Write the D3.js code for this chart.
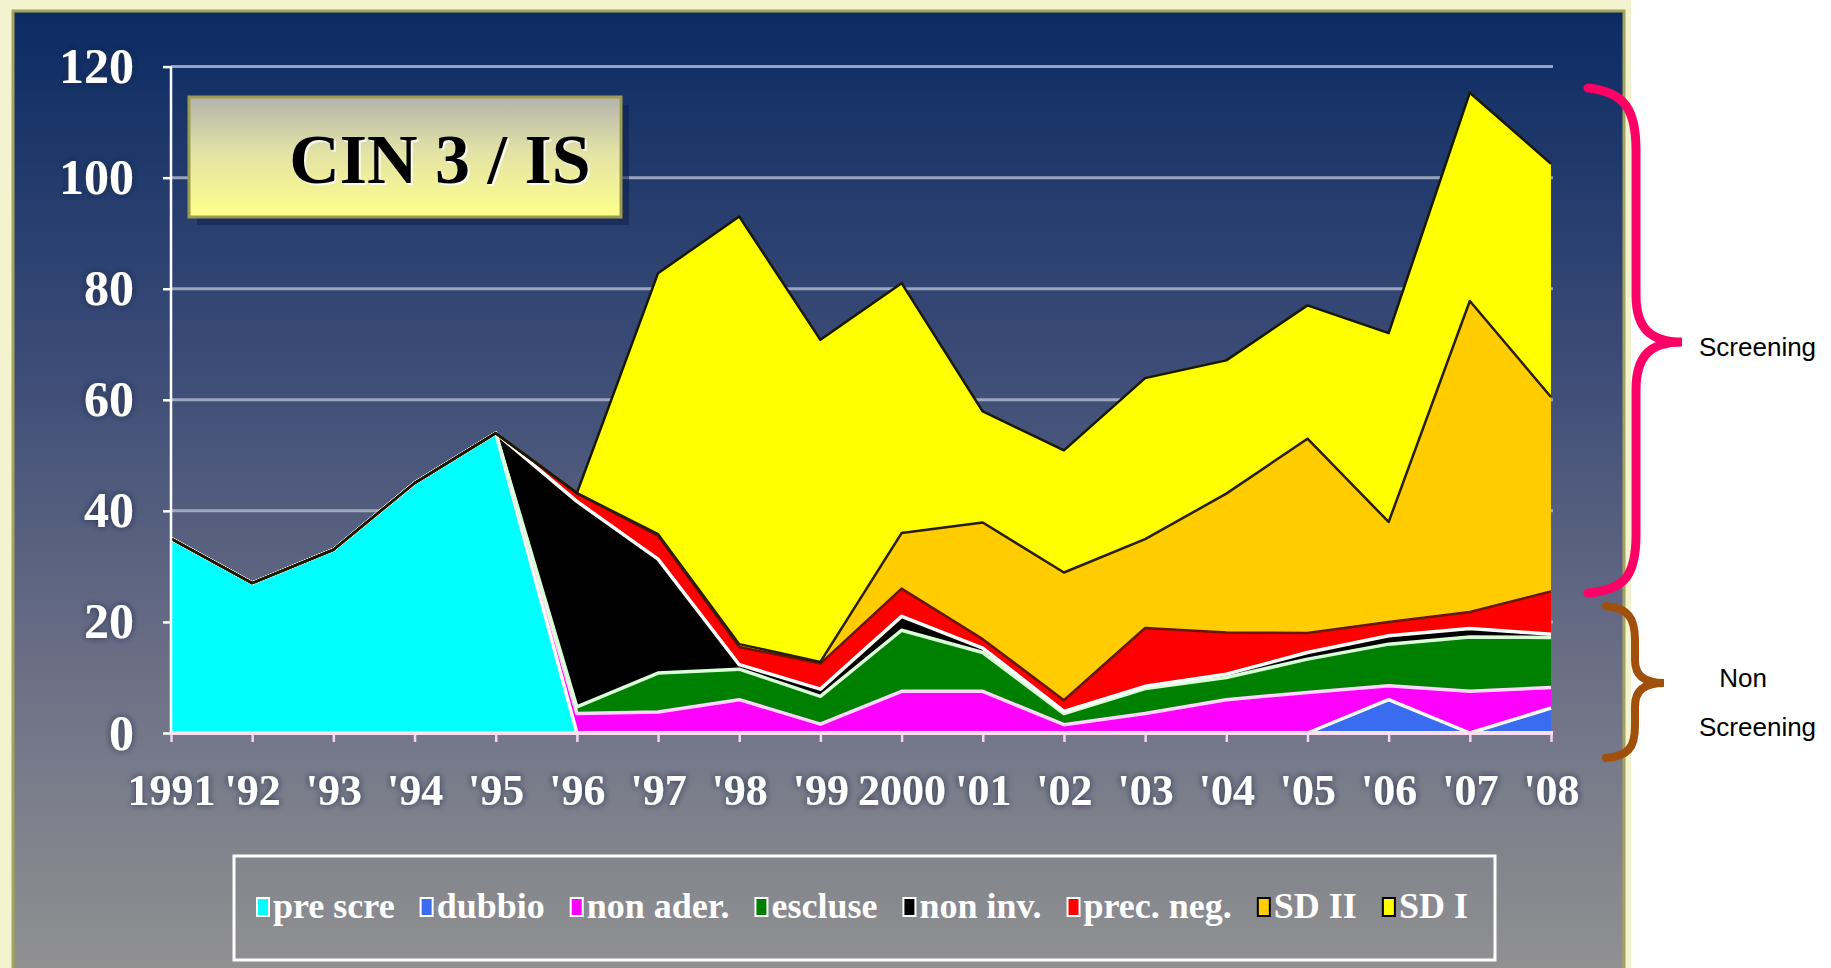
<!DOCTYPE html>
<html>
<head>
<meta charset="utf-8">
<script src="https://d3js.org/d3.v7.min.js"></script>
<style>
  body { margin: 0; background: #ffffff; }
  svg { display: block; }
</style>
</head>
<body>
<div id="chart"></div>
<script>

// years on the x axis
var years = ["1991", "'92", "'93", "'94", "'95", "'96", "'97", "'98", "'99", "2000",
             "'01", "'02", "'03", "'04", "'05", "'06", "'07", "'08"];

// series, bottom to top
var preScre = [35, 27, 33, 45, 54, 0, 0, 0, 0, 0, 0, 0, 0, 0, 0, 0, 0, 0];
var dubbio  = [0, 0, 0, 0, 0, 0, 0, 0, 0, 0, 0, 0, 0, 0, 0, 6, 0, 4.5];
var nonAder = [0, 0, 0, 0, 0, 3.5, 3.8, 6, 1.6, 7.5, 7.5, 1.5, 3.5, 6, 7.3, 2.5, 7.5, 3.7];
var escluse = [0, 0, 0, 0, 0, 1.2, 7, 5.5, 5, 11, 7, 2, 4.5, 4, 6, 7.5, 9.8, 9];
var nonInv  = [0, 0, 0, 0, 0, 37, 20.5, 0.8, 1.3, 2.5, 0.8, 0.4, 0.4, 0.6, 1.2, 1.5, 1.5, 0.6];
var precNeg = [0, 0, 0, 0, 0, 1.5, 4.2, 3.2, 4.6, 5, 1.6, 2, 10.5, 7.5, 3.5, 2.5, 3, 7.7];
var sdII    = [0, 0, 0, 0, 0, 0, 0.3, 0.5, 0.3, 10, 21, 23, 16, 25, 35, 18, 56, 35];
var sdI     = [0, 0, 0, 0, 0, 0, 47, 77, 58, 45, 20, 22, 29, 24, 24, 34, 37.5, 42];

var seriesNames = ["pre scre", "dubbio", "non ader.", "escluse", "non inv.", "prec. neg.", "SD II", "SD I"];
var yTicks = [0, 20, 40, 60, 80, 100, 120];

var fills   = ["#00ffff", "#3a6cf0", "#ff00ff", "#008000", "#000000", "#ff0000", "#ffcc00", "#ffff00"];
var borders = ["#0d3b40", "#ffffff", "#ffd6ff", "#d8ffd8", "#ffffff", "#6b1500", "#2a1c00", "#1a1a00"];
var borderWidths = [2.5, 3.5, 3.5, 3.5, 3.5, 2.5, 2.5, 2.5];
var markerBorders = ["#ffffff", "#ffffff", "#ffffff", "#ffffff", "#ffffff", "#ffffff", "#000000", "#000000"];

var allSeries = [preScre, dubbio, nonAder, escluse, nonInv, precNeg, sdII, sdI];

var table = years.map(function(yr, i) {
  var row = { year: yr };
  seriesNames.forEach(function(k, j) { row[k] = allSeries[j][i]; });
  return row;
});

var W = 1831, H = 968;

var svg = d3.select("#chart")
  .append("svg")
    .attr("width", W)
    .attr("height", H);

var defs = svg.append("defs");

var bg = defs.append("linearGradient")
  .attr("id", "bg").attr("x1", 0).attr("y1", 0).attr("x2", 0).attr("y2", 1);
bg.append("stop").attr("offset", "0%").attr("stop-color", "#0b2b63");
bg.append("stop").attr("offset", "35%").attr("stop-color", "#3a4a76");
bg.append("stop").attr("offset", "65%").attr("stop-color", "#676c84");
bg.append("stop").attr("offset", "100%").attr("stop-color", "#929292");

var tg = defs.append("linearGradient")
  .attr("id", "titlebg").attr("x1", 0).attr("y1", 0).attr("x2", 0).attr("y2", 1);
tg.append("stop").attr("offset", "0%").attr("stop-color", "#b4b4ae");
tg.append("stop").attr("offset", "45%").attr("stop-color", "#e2e2a6");
tg.append("stop").attr("offset", "100%").attr("stop-color", "#ffff8c");

var glow = defs.append("filter").attr("id", "glow")
  .attr("x", "-20%").attr("y", "-20%").attr("width", "140%").attr("height", "140%");
glow.append("feGaussianBlur").attr("in", "SourceAlpha").attr("stdDeviation", 3).attr("result", "b");
glow.append("feFlood").attr("flood-color", "#1a2240").attr("flood-opacity", 0.8);
glow.append("feComposite").attr("in2", "b").attr("operator", "in").attr("result", "s");
var gm = glow.append("feMerge");
gm.append("feMergeNode").attr("in", "s");
gm.append("feMergeNode").attr("in", "SourceGraphic");

// frame and background
svg.append("rect")
  .attr("x", 0).attr("y", 0).attr("width", 1631).attr("height", H)
  .attr("fill", "#f3f3cf");
svg.append("rect")
  .attr("x", 13).attr("y", 11).attr("width", 1611).attr("height", H)
  .attr("fill", "url(#bg)")
  .attr("stroke", "#a4a45c")
  .attr("stroke-width", 3);

var x = d3.scalePoint().domain(years).range([171, 1551]);
var y = d3.scaleLinear().domain([0, 120]).range([733, 66.6]);

// gridlines
svg.append("g")
  .selectAll("line")
  .data(yTicks.filter(function(d) { return d > 0; }))
  .enter()
  .append("line")
    .attr("x1", 171).attr("x2", 1553)
    .attr("y1", function(d) { return y(d); })
    .attr("y2", function(d) { return y(d); })
    .attr("stroke", "#aeb6cc")
    .attr("stroke-opacity", 0.85)
    .attr("stroke-width", 3);

// title box (behind the areas)
svg.append("rect")
  .attr("x", 197).attr("y", 105).attr("width", 432).attr("height", 120)
  .attr("fill", "#0f1f4a").attr("opacity", 0.55);
svg.append("rect")
  .attr("x", 189).attr("y", 97).attr("width", 432).attr("height", 120)
  .attr("fill", "url(#titlebg)")
  .attr("stroke", "#9c9c50")
  .attr("stroke-width", 3);
svg.append("text")
  .attr("x", 440).attr("y", 183)
  .attr("text-anchor", "middle")
  .style("font-family", "'Liberation Serif', 'Times New Roman', serif")
  .style("font-weight", "bold")
  .style("font-size", "70px")
  .attr("fill", "#ffffff")
  .attr("opacity", 0.8)
  .attr("dx", 2).attr("dy", 2)
  .text("CIN 3 / IS");
svg.append("text")
  .attr("x", 440).attr("y", 183)
  .attr("text-anchor", "middle")
  .style("font-family", "'Liberation Serif', 'Times New Roman', serif")
  .style("font-weight", "bold")
  .style("font-size", "70px")
  .attr("fill", "#000000")
  .text("CIN 3 / IS");

// stacked areas
var stack = d3.stack().keys(seriesNames);
var layers = stack(table);

var area = d3.area()
  .x(function(d) { return x(d.data.year); })
  .y0(function(d) { return y(d[0]); })
  .y1(function(d) { return y(d[1]); });

var topLine = d3.line()
  .x(function(d) { return x(d.data.year); })
  .y(function(d) { return y(d[1]); });

svg.append("g")
  .selectAll("path")
  .data(layers)
  .enter()
  .append("path")
    .attr("d", area)
    .attr("fill", function(d, i) { return fills[i]; });

svg.append("g")
  .selectAll("path")
  .data(layers)
  .enter()
  .append("path")
    .attr("d", topLine)
    .attr("fill", "none")
    .attr("stroke", function(d, i) { return borders[i]; })
    .attr("stroke-width", function(d, i) { return borderWidths[i]; })
    .attr("stroke-linejoin", "round");

// axes
var serif = "'Liberation Serif', 'Times New Roman', serif";

var yAxis = svg.append("g")
  .attr("transform", "translate(171,0)")
  .call(d3.axisLeft(y).tickValues(yTicks).tickSize(8).tickPadding(29));
yAxis.select(".domain").remove();
yAxis.selectAll("line").attr("stroke", "#ffffff").attr("stroke-width", 2.5);
yAxis.selectAll("text")
  .attr("fill", "#ffffff")
  .attr("filter", "url(#glow)")
  .style("font-family", serif)
  .style("font-weight", "bold")
  .style("font-size", "50px");

var xAxis = svg.append("g")
  .attr("transform", "translate(0,733)")
  .call(d3.axisBottom(x).tickSize(9).tickPadding(32));
xAxis.select(".domain").remove();
xAxis.selectAll("line").attr("stroke", "#f4d8ea").attr("stroke-width", 2.5);
xAxis.selectAll("text")
  .attr("fill", "#ffffff")
  .attr("filter", "url(#glow)")
  .style("font-family", serif)
  .style("font-weight", "bold")
  .style("font-size", "44px");

svg.append("line")
  .attr("x1", 171).attr("x2", 171)
  .attr("y1", y(120)).attr("y2", y(0))
  .attr("stroke", "#ffffff").attr("stroke-width", 2.5);
svg.append("line")
  .attr("x1", 171).attr("x2", 1553)
  .attr("y1", y(0)).attr("y2", y(0))
  .attr("stroke", "#ffe0f2").attr("stroke-width", 4);

// legend
svg.append("rect")
  .attr("x", 234).attr("y", 856).attr("width", 1261).attr("height", 104)
  .attr("fill", "none")
  .attr("stroke", "#ffffff")
  .attr("stroke-width", 3);

var legend = svg.append("g");
var cursor = 257;
seriesNames.forEach(function(name, i) {
  legend.append("rect")
    .attr("x", cursor).attr("y", 898).attr("width", 12).attr("height", 18)
    .attr("fill", fills[i])
    .attr("stroke", markerBorders[i])
    .attr("stroke-width", 2);
  var t = legend.append("text")
    .attr("x", cursor + 16).attr("y", 918)
    .attr("fill", "#ffffff")
    .style("font-family", serif)
    .style("font-weight", "bold")
    .style("font-size", "36px")
    .text(name);
  cursor += 16 + t.node().getComputedTextLength() + 26;
});

// braces on the right
var pink = "M1588,88 C1625,92 1636,110 1636,150 L1636,295 C1636,328 1650,342 1682,342 "
         + "C1650,342 1636,356 1636,390 L1636,535 C1636,575 1625,590 1588,593";
svg.append("path")
  .attr("d", pink)
  .attr("fill", "none")
  .attr("stroke", "#ff0066")
  .attr("stroke-width", 9)
  .attr("stroke-linecap", "round");

var brown = "M1606,606 C1628,608 1635,618 1635,640 L1635,660 C1635,676 1645,683 1664,683 "
          + "C1645,683 1635,690 1635,706 L1635,726 C1635,748 1628,756 1606,758";
svg.append("path")
  .attr("d", brown)
  .attr("fill", "none")
  .attr("stroke", "#a0500a")
  .attr("stroke-width", 8)
  .attr("stroke-linecap", "round");

var sans = "'Liberation Sans', Arial, sans-serif";
svg.append("text")
  .attr("x", 1699).attr("y", 356)
  .style("font-family", sans).style("font-size", "26px")
  .attr("fill", "#000000")
  .text("Screening");
svg.append("text")
  .attr("x", 1743).attr("y", 687)
  .attr("text-anchor", "middle")
  .style("font-family", sans).style("font-size", "26px")
  .attr("fill", "#000000")
  .text("Non");
svg.append("text")
  .attr("x", 1699).attr("y", 736)
  .style("font-family", sans).style("font-size", "26px")
  .attr("fill", "#000000")
  .text("Screening");

</script>
</body>
</html>
